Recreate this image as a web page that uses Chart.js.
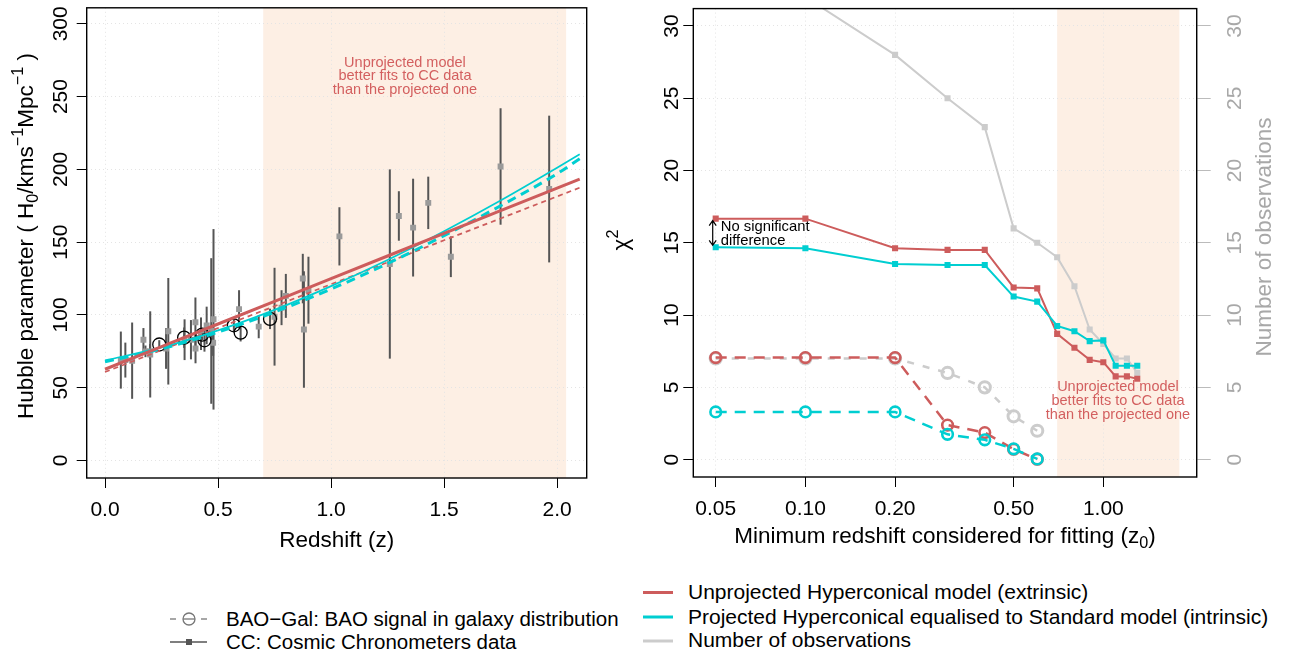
<!DOCTYPE html>
<html>
<head>
<meta charset="utf-8">
<script src="https://cdn.jsdelivr.net/npm/chart.js@4.4.0/dist/chart.umd.min.js"></script>
<style>
  body { margin: 0; background: #fff; width: 1302px; height: 659px; overflow: hidden;
         font-family: "Liberation Sans", Arial, Helvetica, sans-serif; }
  canvas { position: absolute; top: 0; }
  #hubble { left: 0; }
  #chi2 { left: 600px; }
  .row { position: absolute; height: 24px; line-height: 24px; font-size: 20.5px; color: #000; white-space: nowrap; }
  .row.big { font-size: 21px; }
  .sym { position: absolute; }
</style>
</head>
<body>
<canvas id="hubble" width="600" height="560"></canvas>
<canvas id="chi2" width="702" height="560"></canvas>

<!-- left legend -->
<svg class="sym" style="left:165px;top:606px" width="48" height="48">
  <g stroke="#777" stroke-width="1.3" fill="none">
    <line x1="5" y1="13" x2="11" y2="13"/><line x1="18" y1="13" x2="30" y2="13"/><line x1="36" y1="13" x2="42" y2="13"/>
    <circle cx="24" cy="13" r="6"/>
  </g>
  <line x1="5" y1="36" x2="42" y2="36" stroke="#555" stroke-width="1.5"/>
  <rect x="21" y="33" width="6" height="6" fill="#555"/>
</svg>
<div class="row" style="left:226px;top:607px">BAO−Gal: BAO signal in galaxy distribution</div>
<div class="row" style="left:226px;top:630px">CC: Cosmic Chronometers data</div>

<!-- right legend -->
<svg class="sym" style="left:640px;top:580px" width="40" height="70">
  <line x1="3" y1="12.5" x2="33" y2="12.5" stroke="#CD5C5C" stroke-width="3"/>
  <line x1="3" y1="37" x2="33" y2="37" stroke="#00CED1" stroke-width="3"/>
  <line x1="3" y1="61" x2="33" y2="61" stroke="#CCCCCC" stroke-width="3"/>
</svg>
<div class="row big" style="left:688px;top:580px">Unprojected Hyperconical model (extrinsic)</div>
<div class="row big" style="left:688px;top:605px">Projected Hyperconical equalised to Standard model (intrinsic)</div>
<div class="row big" style="left:688px;top:628px">Number of observations</div>

<script>
// ---------- data: left panel (Hubble diagram) ----------
const ccZ = [0.07, 0.09, 0.12, 0.17, 0.179, 0.199, 0.2, 0.27, 0.28, 0.352, 0.3802, 0.4, 0.4004, 0.4247,
  0.4497, 0.47, 0.4783, 0.48, 0.593, 0.68, 0.75, 0.781, 0.8, 0.875, 0.88, 0.9, 1.037, 1.26, 1.3,
  1.363, 1.43, 1.53, 1.75, 1.965];
const ccH = [69, 69, 68.6, 83, 75, 75, 72.9, 77, 88.8, 83, 83, 95, 77, 87.1, 92.8, 89, 80.9, 97, 104,
  92, 98.8, 105, 113.1, 125, 90, 117, 154, 135, 168, 160, 177, 140, 202, 186.5];
const ccErr = [19.6, 12, 26.2, 8, 4, 5, 29.6, 14, 36.6, 14, 13.5, 17, 10.2, 11.2, 12.9, 50, 9, 62, 13,
  8, 33.6, 12, 15.1, 17, 40, 23, 20, 65, 17, 33.6, 18, 14, 40, 50.4];

const baoZ = [0.24, 0.35, 0.43, 0.44, 0.57, 0.6, 0.73];
const baoH = [79.7, 84.4, 86.5, 82.6, 92.9, 87.9, 97.3];
const baoErr = [3.0, 7.0, 3.7, 7.8, 4.5, 6.1, 7.0];

// fitted model curves
const modelZ = [0, 0.25, 0.5, 0.75, 1.0, 1.25, 1.5, 1.75, 2.0, 2.1];
const unprojAllH = [62.7, 78.3, 93.8, 109.4, 124.9, 140.5, 156.0, 171.6, 187.1, 193.3];
const unprojCCH = [60.8, 75.9, 91.0, 106.0, 121.1, 136.2, 151.3, 166.3, 181.4, 187.4];
const projAllH = [68.8, 77.7, 89.4, 103.5, 119.8, 137.8, 157.5, 178.6, 201.1, 210.4];
const projCCH = [67.9, 76.7, 88.2, 102.0, 117.8, 135.3, 154.5, 175.0, 197.0, 207.3];

const hubbleXTicks = [0, 0.5, 1.0, 1.5, 2.0];
const hubbleYTicks = [0, 50, 100, 150, 200, 250, 300];

// ---------- data: right panel (chi2 vs minimum redshift) ----------
const zMin = [0.05, 0.1, 0.2, 0.3, 0.4, 0.5, 0.6, 0.7, 0.8, 0.9, 1.0, 1.1, 1.2, 1.3];
const chi2UnprojCC = [16.67, 16.67, 14.62, 14.51, 14.51, 11.91, 11.85, 8.70, 7.74, 6.90, 6.74, 5.76, 5.76, 5.60];
const chi2ProjCC = [14.69, 14.62, 13.53, 13.46, 13.46, 11.28, 10.93, 9.25, 8.88, 8.20, 8.25, 6.49, 6.49, 6.49];
const nObsCC = [34, 32, 28, 25, 23, 16, 15, 14, 12, 9, 8, 7, 7, 6];

const zMinBao = [0.05, 0.1, 0.2, 0.3, 0.4, 0.5, 0.6];
const chi2UnprojBao = [7.06, 7.06, 7.06, 2.39, 1.87, 0.72, 0.03];
const chi2ProjBao = [3.30, 3.30, 3.30, 1.75, 1.37, 0.75, 0.05];
const nObsBao = [7, 7, 7, 6, 5, 3, 2];

const chi2XTicks = [0.05, 0.1, 0.2, 0.5, 1.0];
const chi2YTicks = [0, 5, 10, 15, 20, 25, 30];

// ---------- style ----------
const RED = "#CD5C5C";
const CYAN = "#00CED1";
const GREY = "#CCCCCC";
const SHADE = "#FDEFE4";
const FAM = '"Liberation Sans", Arial, Helvetica, sans-serif';
const TITLE = 22.5;
const font = (s) => s + "px " + FAM;

const xy = (xs, ys) => xs.map((x, i) => ({ x: x, y: ys[i] }));

// text with sub/superscripts, centred at (x, y), optionally rotated
function drawRich(ctx, parts, x, y, size, color, rot) {
  ctx.save();
  ctx.translate(x, y);
  ctx.rotate(rot || 0);
  ctx.fillStyle = color;
  ctx.textBaseline = "middle";
  ctx.textAlign = "left";
  let w = 0;
  parts.forEach((p) => {
    ctx.font = font(p.s ? size * 0.72 : size);
    p.w = ctx.measureText(p.t).width;
    w += p.w;
  });
  let cx = -w / 2;
  parts.forEach((p) => {
    ctx.font = font(p.s ? size * 0.72 : size);
    const dy = p.s === "sub" ? size * 0.28 : p.s === "sup" ? -size * 0.36 : 0;
    ctx.fillText(p.t, cx, dy);
    cx += p.w;
  });
  ctx.restore();
}

function drawYLabels(chart, id, cx, color) {
  const s = chart.scales[id];
  const ctx = chart.ctx;
  ctx.save();
  ctx.font = font(21);
  ctx.fillStyle = color;
  ctx.textAlign = "center";
  ctx.textBaseline = "middle";
  s.ticks.forEach((t) => {
    ctx.save();
    ctx.translate(cx, s.getPixelForValue(t.value));
    ctx.rotate(-Math.PI / 2);
    ctx.fillText(String(t.value), 0, 0);
    ctx.restore();
  });
  ctx.restore();
}

function shade(chart, from, to) {
  const { ctx, chartArea, scales } = chart;
  const x1 = scales.x.getPixelForValue(from);
  const x2 = scales.x.getPixelForValue(to);
  ctx.save();
  ctx.fillStyle = SHADE;
  ctx.fillRect(x1, chartArea.top, x2 - x1, chartArea.bottom - chartArea.top);
  ctx.restore();
}

function box(chart) {
  const { ctx, chartArea: a } = chart;
  ctx.save();
  ctx.strokeStyle = "#000";
  ctx.lineWidth = 1.4;
  ctx.strokeRect(a.left, a.top, a.right - a.left, a.bottom - a.top);
  ctx.restore();
}

function redNote(chart, cx, cy, lines) {
  const ctx = chart.ctx;
  ctx.save();
  ctx.font = font(14.5);
  ctx.fillStyle = "#D35F5F";
  ctx.textAlign = "center";
  ctx.textBaseline = "middle";
  lines.forEach((l, i) => ctx.fillText(l, cx, cy + i * 13.6));
  ctx.restore();
}

const noteLines = ["Unprojected model", "better fits to CC data", "than the projected one"];

function xAxis(min, max, ticks, fmt, height, type) {
  return {
    type: type || "linear",
    min: min,
    max: max,
    afterBuildTicks: (s) => { s.ticks = ticks.map((v) => ({ value: v })); },
    afterFit: (s) => { s.height = height; },
    ticks: { color: "#000", font: { family: FAM, size: 21 }, padding: 10, maxRotation: 0, autoSkip: false,
             callback: (v) => Number(v).toFixed(fmt) },
    grid: { color: "#E4E4E4", drawTicks: true, tickLength: 10, tickColor: "#000", tickWidth: 1 },
    border: { display: false, dash: [1, 3] },
  };
}

function yAxis(min, max, ticks, width, pos, tickColor, grid) {
  return {
    type: "linear",
    position: pos,
    min: min,
    max: max,
    afterBuildTicks: (s) => { s.ticks = ticks.map((v) => ({ value: v })); },
    afterFit: (s) => { s.width = width; },
    ticks: { display: false },
    grid: { color: "#E4E4E4", drawOnChartArea: grid, drawTicks: true, tickLength: pos === "right" ? 14 : 10,
            tickColor: tickColor, tickWidth: 1 },
    border: { display: pos === "right", color: tickColor, width: 1.2, dash: [1, 3] },
  };
}

// ---------- left chart ----------
const hubbleDeco = {
  id: "hubbleDeco",
  beforeDraw: (chart) => shade(chart, 0.7, 2.04),
  beforeDatasetsDraw: (chart) => {
    const { ctx, scales: { x, y } } = chart;
    ctx.save();
    ctx.strokeStyle = "#555";
    ctx.lineWidth = 2;
    const bar = (z, h, e) => {
      const px = x.getPixelForValue(z);
      ctx.beginPath();
      ctx.moveTo(px, y.getPixelForValue(h - e));
      ctx.lineTo(px, y.getPixelForValue(h + e));
      ctx.stroke();
    };
    ccZ.forEach((z, i) => bar(z, ccH[i], ccErr[i]));
    baoZ.forEach((z, i) => bar(z, baoH[i], baoErr[i]));
    ctx.restore();
  },
  afterDraw: (chart) => {
    const { ctx, chartArea: a, scales: { x, y } } = chart;
    box(chart);
    drawYLabels(chart, "y", 61, "#000");
    drawRich(ctx, [{ t: "Redshift (z)" }], (a.left + a.right) / 2, 541, TITLE, "#000", 0);
    drawRich(ctx, [{ t: "Hubble parameter ( H" }, { t: "0", s: "sub" }, { t: "/kms" }, { t: "−1", s: "sup" },
      { t: "Mpc" }, { t: "−1", s: "sup" }, { t: " )" }], 27, 236, TITLE, "#000", -Math.PI / 2);
    redNote(chart, x.getPixelForValue(1.327), y.getPixelForValue(273.4), noteLines);
  },
};

new Chart(document.getElementById("hubble"), {
  type: "line",
  data: {
    datasets: [
      { data: xy(modelZ, unprojAllH), borderColor: RED, borderWidth: 3, pointRadius: 0, order: 1 },
      { data: xy(modelZ, projCCH), borderColor: CYAN, borderWidth: 3, borderDash: [9, 6], pointRadius: 0,
        cubicInterpolationMode: "monotone", order: 2 },
      { data: xy(modelZ, projAllH), borderColor: CYAN, borderWidth: 1.7, pointRadius: 0,
        cubicInterpolationMode: "monotone", order: 3 },
      { data: xy(modelZ, unprojCCH), borderColor: RED, borderWidth: 1.7, borderDash: [5, 4], pointRadius: 0, order: 4 },
      { type: "scatter", data: xy(baoZ, baoH), pointStyle: "circle", pointRadius: 6.5, borderColor: "#000",
        borderWidth: 1.3, backgroundColor: "rgba(0,0,0,0)", order: 5 },
      { type: "scatter", data: xy(ccZ, ccH), pointStyle: "rect", pointRadius: 4.2, borderWidth: 0,
        backgroundColor: "#9A9A9A", borderColor: "#9A9A9A", order: 6 },
    ],
  },
  options: {
    responsive: false,
    animation: false,
    events: [],
    layout: { padding: { left: 0, right: 13.3, top: 5.5, bottom: 0 } },
    plugins: { legend: { display: false }, tooltip: { enabled: false } },
    scales: {
      x: xAxis(-0.081, 2.131, hubbleXTicks, 1, 82),
      y: yAxis(-12, 311, hubbleYTicks, 86.7, "left", "#000", true),
    },
  },
  plugins: [hubbleDeco],
});

// ---------- right chart ----------
const chi2Deco = {
  id: "chi2Deco",
  beforeDraw: (chart) => shade(chart, 0.7, 1.8),
  afterDraw: (chart) => {
    const { ctx, chartArea: a, scales: { x, y } } = chart;
    box(chart);
    drawYLabels(chart, "y", 72, "#000");
    drawYLabels(chart, "y2", 635, "#A8A8A8");
    drawRich(ctx, [{ t: "Minimum redshift considered for fitting (z" }, { t: "0", s: "sub" }, { t: ")" }],
      (a.left + a.right) / 2, 537, TITLE, "#000", 0);
    drawRich(ctx, [{ t: "χ" }, { t: "2", s: "sup" }], 22, 240, TITLE, "#000", -Math.PI / 2);
    drawRich(ctx, [{ t: "Number of observations" }], 665, 237, TITLE, "#A8A8A8", -Math.PI / 2);
    redNote(chart, x.getPixelForValue(1.12), y.getPixelForValue(5.0), noteLines);

    // "No significant difference" double arrow
    const ax = x.getPixelForValue(zMin[0]) - 3;
    const y1 = y.getPixelForValue(chi2UnprojCC[0]) + 2;
    const y2 = y.getPixelForValue(chi2ProjCC[0]) - 2;
    ctx.save();
    ctx.strokeStyle = "#000";
    ctx.lineWidth = 1.2;
    ctx.beginPath();
    ctx.moveTo(ax, y1); ctx.lineTo(ax, y2);
    ctx.moveTo(ax - 3.5, y1 + 5); ctx.lineTo(ax, y1); ctx.lineTo(ax + 3.5, y1 + 5);
    ctx.moveTo(ax - 3.5, y2 - 5); ctx.lineTo(ax, y2); ctx.lineTo(ax + 3.5, y2 - 5);
    ctx.stroke();
    ctx.font = font(14.8);
    ctx.fillStyle = "#000";
    ctx.textAlign = "left";
    ctx.textBaseline = "middle";
    ctx.fillText("No significant", ax + 8, y1 + 6.5);
    ctx.fillText("difference", ax + 8, y1 + 20.5);
    ctx.restore();
  },
};

new Chart(document.getElementById("chi2"), {
  type: "line",
  data: {
    datasets: [
      { data: xy(zMinBao, chi2ProjBao), borderColor: CYAN, borderWidth: 2.5, borderDash: [11, 8],
        pointStyle: "circle", pointRadius: 5.3, pointBorderWidth: 2.6, pointBackgroundColor: "rgba(0,0,0,0)",
        pointBorderColor: CYAN, order: 1 },
      { data: xy(zMinBao, chi2UnprojBao), borderColor: RED, borderWidth: 2.5, borderDash: [11, 8],
        pointStyle: "circle", pointRadius: 5.3, pointBorderWidth: 2.6, pointBackgroundColor: "rgba(0,0,0,0)",
        pointBorderColor: RED, order: 2 },
      { data: xy(zMin, chi2ProjCC), borderColor: CYAN, borderWidth: 2, pointStyle: "rect", pointRadius: 4.3,
        pointBackgroundColor: CYAN, pointBorderWidth: 0, order: 3 },
      { data: xy(zMin, chi2UnprojCC), borderColor: RED, borderWidth: 2, pointStyle: "rect", pointRadius: 4.3,
        pointBackgroundColor: RED, pointBorderWidth: 0, order: 4 },
      { data: xy(zMinBao, nObsBao), yAxisID: "y2", borderColor: GREY, borderWidth: 2.5, borderDash: [7, 9],
        pointStyle: "circle", pointRadius: 5.6, pointBorderWidth: 3, pointBackgroundColor: "rgba(0,0,0,0)",
        pointBorderColor: GREY, order: 5 },
      { data: xy(zMin, nObsCC), yAxisID: "y2", borderColor: GREY, borderWidth: 2, pointStyle: "rect",
        pointRadius: 4.3, pointBackgroundColor: GREY, pointBorderWidth: 0, order: 6 },
    ],
  },
  options: {
    responsive: false,
    animation: false,
    events: [],
    layout: { padding: { left: 0, right: 0, top: 4.5, bottom: 0 } },
    plugins: { legend: { display: false }, tooltip: { enabled: false } },
    scales: {
      x: xAxis(0.04205, 2.058, chi2XTicks, 2, 83, "logarithmic"),
      y: yAxis(-1.2, 31.2, chi2YTicks, 93.3, "left", "#000", true),
      y2: yAxis(-1.2, 31.2, chi2YTicks, 105.3, "right", "#BBBBBB", false),
    },
  },
  plugins: [chi2Deco],
});
</script>
</body>
</html>
